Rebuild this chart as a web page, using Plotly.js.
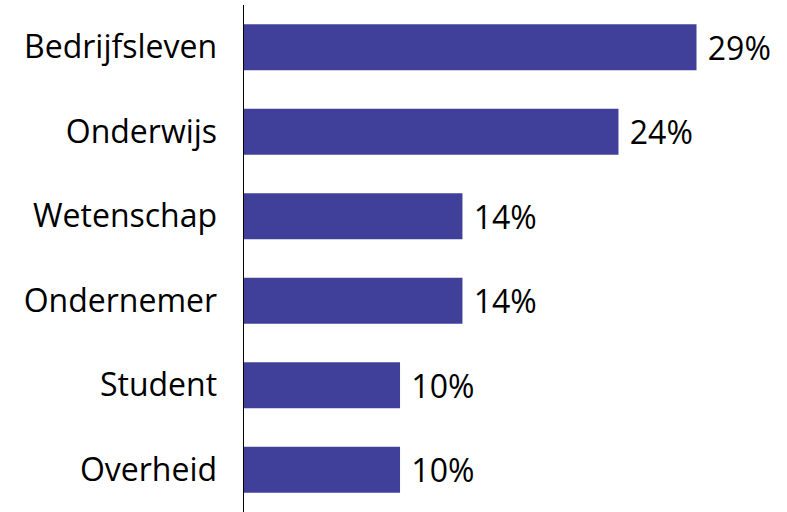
<!DOCTYPE html>
<html>
<head>
<meta charset="utf-8">
<script src="https://cdn.plot.ly/plotly-3.0.1.min.js"></script>
<style>html,body{margin:0;padding:0;background:#fff;}#chart{width:787px;height:512px;}</style>
</head>
<body>
<div id="chart"></div>
<script>
const categories = ["Bedrijfsleven", "Onderwijs", "Wetenschap", "Ondernemer", "Student", "Overheid"];
const values = [29, 24, 14, 14, 10, 10];
const labels = ["29%", "24%", "14%", "14%", "10%", "10%"];

const trace = {
  type: "bar",
  orientation: "h",
  y: categories,
  x: values,
  text: labels.map(function (s) { return " " + s; }),
  textposition: "outside",
  cliponaxis: false,
  textfont: {family: "Open Sans", size: 32, color: "#000"},
  marker: {color: "#40409A"},
  hoverinfo: "none"
};

const layout = {
  width: 787,
  height: 512,
  margin: {l: 244, r: 0, t: 5, b: 0},
  paper_bgcolor: "#fff",
  plot_bgcolor: "#fff",
  showlegend: false,
  bargap: 0.455,
  uniformtext: {mode: false},
  font: {family: "Open Sans", color: "#000"},
  xaxis: {range: [0, 34.8], visible: false, showgrid: false, zeroline: false},
  yaxis: {
    autorange: "reversed",
    showline: true,
    linecolor: "#000",
    linewidth: 1.5,
    ticks: "",
    showgrid: false,
    zeroline: false,
    tickfont: {family: "Open Sans", size: 32, color: "#000"},
    ticklabelstandoff: 19
  }
};

Plotly.newPlot("chart", [trace], layout, {staticPlot: true});
</script>
</body>
</html>
